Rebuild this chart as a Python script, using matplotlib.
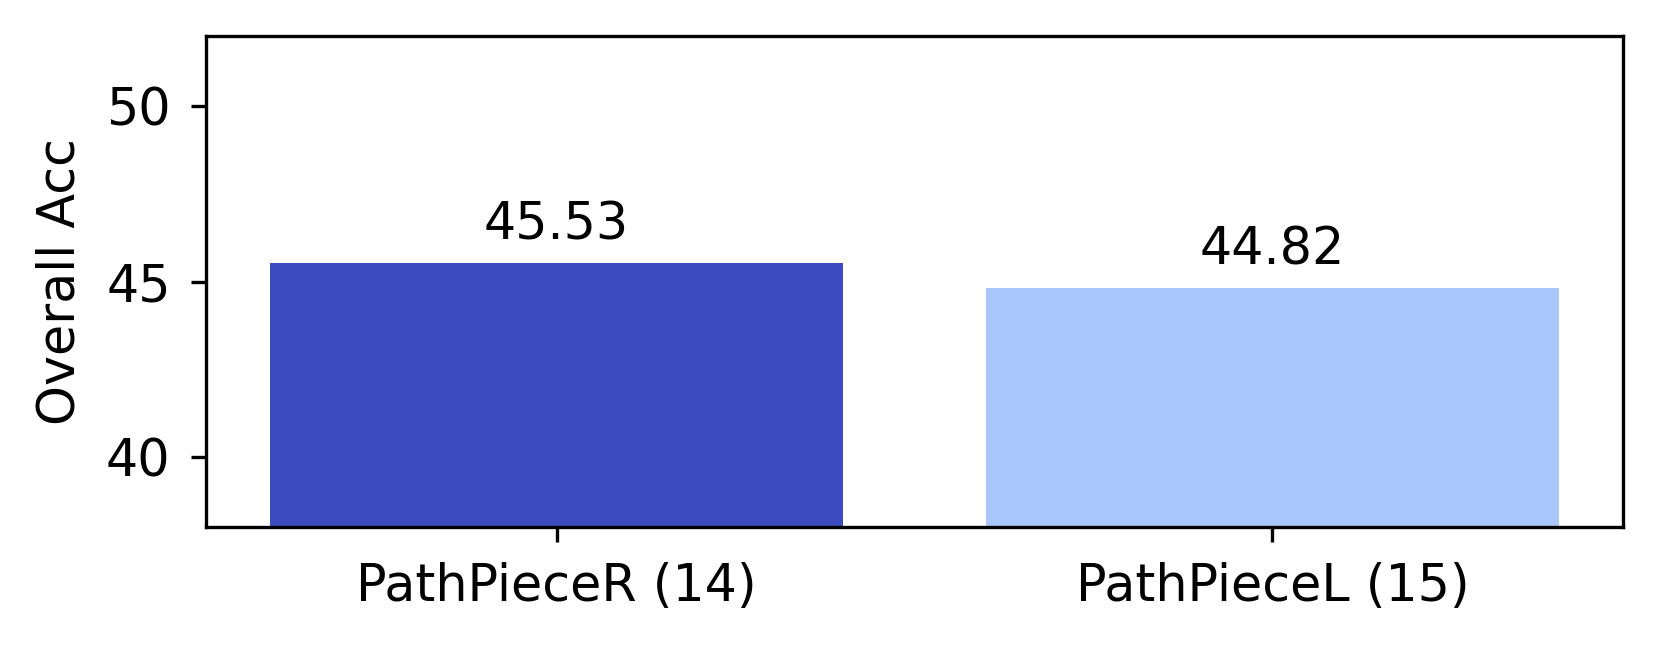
import matplotlib
matplotlib.use("Agg")
import matplotlib.pyplot as plt

categories = ["PathPieceR (14)", "PathPieceL (15)"]
values = [45.53, 44.82]
colors = ["#3b4cc0", "#aac7fd"]
fs = 12.2

fig = plt.figure(figsize=(1660/300, 651/300), dpi=300)
ax = fig.add_axes([206/1660, 1 - 527/651, (1623-206)/1660, (527-36)/651])
x = list(range(len(categories)))
bars = ax.bar(x, values, width=0.8, color=colors)
for xi, v in zip(x, values):
    ax.annotate(f"{v:.2f}", (xi, v), xytext=(0, 3), textcoords="offset points",
                ha="center", va="bottom", fontsize=fs)
ax.set_xticks(x)
ax.set_xticklabels(categories, fontsize=fs)
ax.set_ylim(38, 52)
ax.set_yticks([40, 45, 50])
ax.tick_params(axis="both", labelsize=fs, pad=5)
ax.set_ylabel("Overall Acc", fontsize=fs, labelpad=5)
fig.savefig("out.png", dpi=300)
